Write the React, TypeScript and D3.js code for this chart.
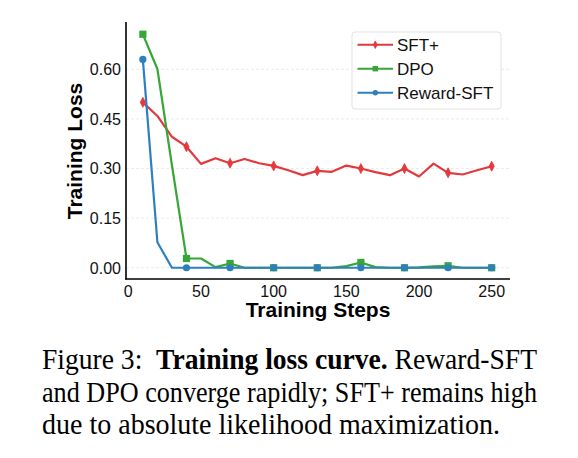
import * as d3 from 'd3';

const steps = [10, 20, 30, 40, 50, 60, 70, 80, 90, 100, 110, 120, 130, 140, 150, 160, 170, 180, 190, 200, 210, 220, 230, 240, 250];

const sftPlus = [0.5, 0.459, 0.396, 0.366, 0.314, 0.331, 0.316, 0.329, 0.316, 0.308, 0.295, 0.28, 0.293, 0.29, 0.309, 0.3, 0.289, 0.28, 0.3, 0.276, 0.315, 0.287, 0.282, 0.295, 0.307];
const dpo = [0.706, 0.601, 0.31, 0.028, 0.028, 0.002, 0.013, 0, 0, 0, 0, 0, 0, 0, 0.005, 0.016, 0.002, 0, 0, 0.001, 0.004, 0.006, 0, 0, 0];
const rewardSft = [0.63, 0.077, 0, 0, 0, 0, 0, 0, 0, 0, 0, 0, 0, 0, 0, 0, 0, 0, 0, 0, 0, 0, 0, 0, 0];

const xTicks = [0, 50, 100, 150, 200, 250];
const yTicks = [0, 0.15, 0.3, 0.45, 0.6];

// caption lines: [text, bold] runs, plus the width each line is set to
const captionLines = [
  { parts: [['Figure 3:  ', false], ['Training loss curve.', true], [' Reward-SFT', false]], width: 495 },
  { parts: [['and DPO converge rapidly; SFT+ remains high', false]], width: 495 },
  { parts: [['due to absolute likelihood maximization.', false]], width: 458 },
];

const series = [
  { name: 'SFT+', values: sftPlus, color: '#e3383c', marker: 'diamond' },
  { name: 'DPO', values: dpo, color: '#37a637', marker: 'square' },
  { name: 'Reward-SFT', values: rewardSft, color: '#2d7fc0', marker: 'circle' },
];

const W = 578;
const H = 458;
const sans = 'Arial, "Liberation Sans", Helvetica, sans-serif';
const serif = '"Times New Roman", "Liberation Serif", Times, serif';

const x = d3.scaleLinear().domain([-1.6, 262.6]).range([126, 510]);
const y = d3.scaleLinear().domain([-0.034, 0.743]).range([279, 22]);

function Marker({ kind, cx, cy, color, s = 1 }: { kind: string; cx: number; cy: number; color: string; s?: number }) {
  if (kind === 'square') {
    const h = 3.6 * s;
    return <rect x={cx - h} y={cy - h} width={2 * h} height={2 * h} fill={color} />;
  }
  if (kind === 'circle') {
    return <circle cx={cx} cy={cy} r={3.6 * s} fill={color} />;
  }
  const w = 2.6 * s;
  const h = 5 * s;
  return (
    <path
      d={`M${cx},${cy - h}L${cx + w},${cy}L${cx},${cy + h}L${cx - w},${cy}Z`}
      fill={color}
      stroke={color}
      strokeWidth={0.8}
    />
  );
}

export default function App() {
  const line = d3
    .line<number>()
    .x((_, i) => x(steps[i]))
    .y((d) => y(d));

  return (
    <svg
      width={W}
      height={H}
      viewBox={`0 0 ${W} ${H}`}
      style={{ position: 'absolute', left: 0, top: 0, background: '#fff' }}
    >
      <rect width={W} height={H} fill="#fff" />

      {/* faint horizontal grid */}
      {yTicks.map((t) => (
        <line
          key={`g${t}`}
          x1={126}
          x2={510}
          y1={y(t)}
          y2={y(t)}
          stroke="#e6e6e6"
          strokeWidth={0.8}
          strokeDasharray="3,2"
        />
      ))}

      {/* series lines */}
      {series.map((s) => (
        <path key={s.name} d={line(s.values) ?? ''} fill="none" stroke={s.color} strokeWidth={2.2} strokeLinejoin="round" />
      ))}

      {/* markers every third step */}
      {series.map((s) =>
        s.values.map((v, i) =>
          i % 3 === 0 ? (
            <Marker key={`${s.name}${i}`} kind={s.marker} cx={x(steps[i])} cy={y(v)} color={s.color} />
          ) : null
        )
      )}

      {/* spines */}
      <line x1={126} x2={126} y1={22} y2={279.5} stroke="#000" strokeWidth={1.6} />
      <line x1={125.2} x2={510} y1={279} y2={279} stroke="#000" strokeWidth={1.6} />

      {/* tick labels */}
      {yTicks.map((t) => (
        <text key={`y${t}`} x={121} y={y(t)} dy="0.36em" textAnchor="end" fontFamily={sans} fontSize={16} fill="#111">
          {t.toFixed(2)}
        </text>
      ))}
      {xTicks.map((t) => (
        <text key={`x${t}`} x={x(t)} y={297} textAnchor="middle" fontFamily={sans} fontSize={16} fill="#111">
          {t}
        </text>
      ))}

      {/* axis titles */}
      <text x={318} y={317} textAnchor="middle" fontFamily={sans} fontSize={21} fontWeight="bold" fill="#000">
        Training Steps
      </text>
      <text
        transform="translate(82,151) rotate(-90)"
        textAnchor="middle"
        fontFamily={sans}
        fontSize={21}
        fontWeight="bold"
        fill="#000"
      >
        Training Loss
      </text>

      {/* legend */}
      <rect x={352} y={32} width={149} height={77} rx={3} fill="#fff" fillOpacity={0.85} stroke="#e2e2e2" strokeWidth={1} />
      {series.map((s, i) => {
        const ly = 44.7 + i * 24;
        return (
          <g key={`l${s.name}`}>
            <line x1={357.5} x2={393} y1={ly} y2={ly} stroke={s.color} strokeWidth={2} />
            <Marker kind={s.marker} cx={375.3} cy={ly} color={s.color} s={0.75} />
            <text x={397} y={ly} dy="0.36em" fontFamily={sans} fontSize={17} fill="#111">
              {s.name}
            </text>
          </g>
        );
      })}

      {/* caption */}
      {captionLines.map((ln, i) => (
        <text
          key={`c${i}`}
          x={42}
          y={369.3 + i * 32.5}
          fontFamily={serif}
          fontSize={29}
          fill="#000"
          textLength={ln.width}
          lengthAdjust="spacingAndGlyphs"
        >
          {ln.parts.map(([t, b], j) => (
            <tspan key={j} fontWeight={b ? 'bold' : 'normal'} style={{ whiteSpace: 'pre' }}>
              {t as string}
            </tspan>
          ))}
        </text>
      ))}
    </svg>
  );
}
